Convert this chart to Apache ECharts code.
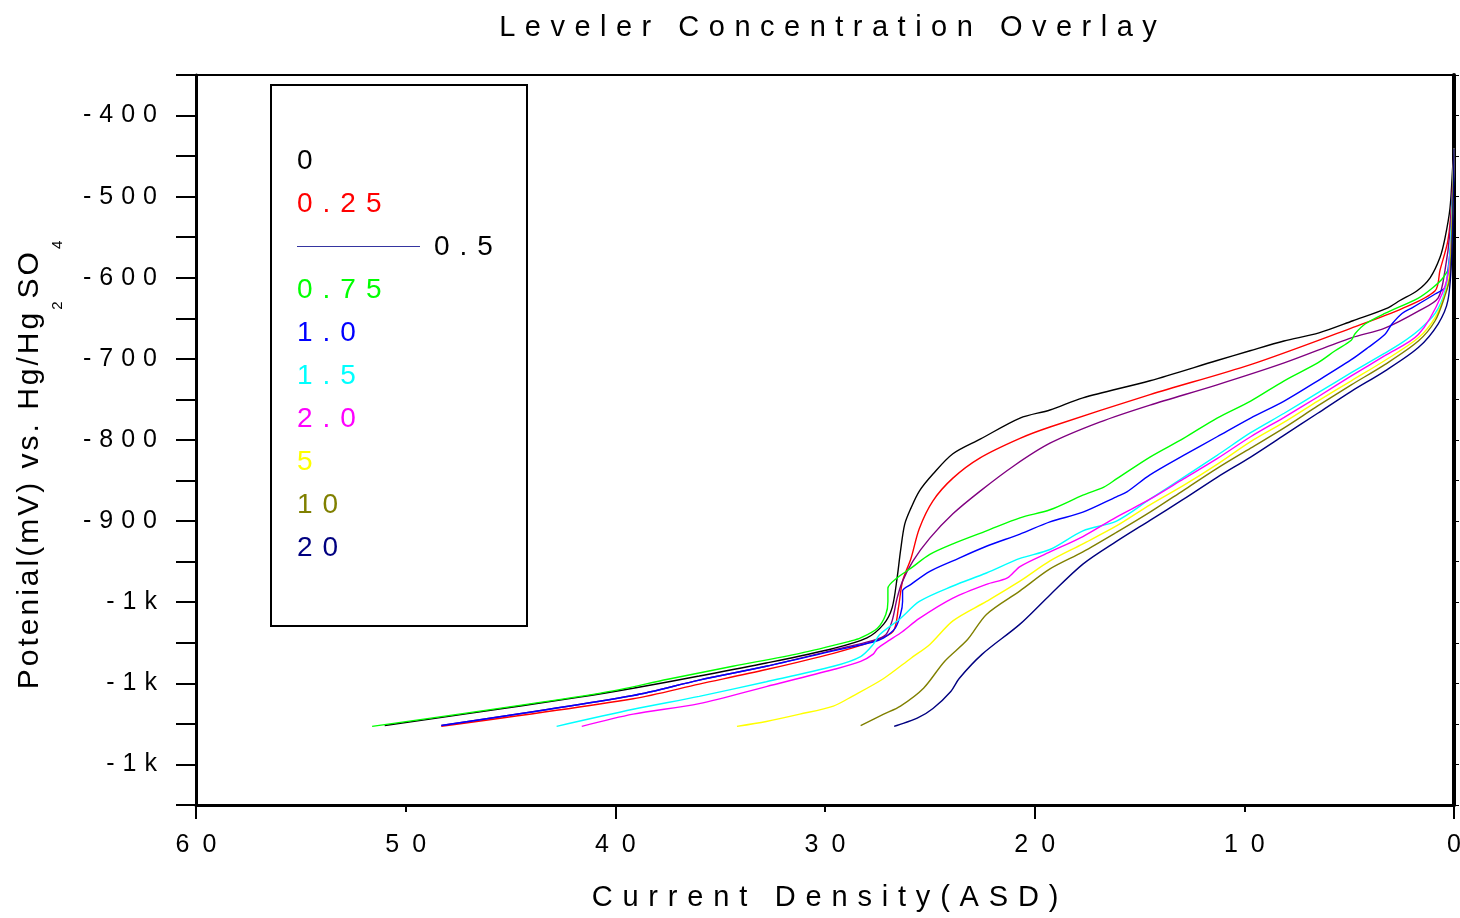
<!DOCTYPE html>
<html>
<head>
<meta charset="utf-8">
<title>Leveler Concentration Overlay</title>
<script src="https://cdn.jsdelivr.net/npm/echarts@6/dist/echarts.min.js"></script>
<style>
  html, body { margin: 0; padding: 0; background: #fff; }
  #chart { width: 1460px; height: 918px; }
</style>
</head>
<body>
<div id="chart"></div>
<script>
  // 图例名称 / 颜色
  var names = ['0', '0.25', '0.5', '0.75', '1.0', '1.5', '2.0', '5', '10', '20'];
  var colors = ['#000000', '#ff0000', '#800080', '#00ff00', '#0000ff', '#00ffff', '#ff00ff', '#ffff00', '#808000', '#000080'];

  // [电流密度 ASD, 电位 mV]
  var c0 = [[0,-441],[0.05,-458],[0.19,-514],[0.43,-551],[0.67,-575],[1.14,-600],[1.76,-616],[2.58,-628],[3.15,-637],[4.82,-653],[6.44,-668],[8.11,-678],[9.73,-690],[11.3,-702],[14.5,-727],[17.7,-748],[19.27,-763],[20.7,-773],[22.6,-799],[23.9,-817],[24.85,-842],[25.5,-863],[25.9,-884],[26.2,-904],[26.4,-937],[26.56,-970],[26.8,-1007],[27.2,-1027],[28.0,-1044],[29.6,-1057],[32.8,-1075],[36.0,-1091],[39.15,-1106],[41.7,-1117],[47.2,-1138],[51.0,-1152]];
  var c025 = [[0,-443],[0.1,-505],[0.29,-554],[0.67,-591],[0.9,-616],[2.48,-638],[4.9,-662],[9.7,-707],[14.5,-744],[19.27,-784],[20.7,-798],[22.6,-822],[23.9,-847],[24.85,-875],[25.5,-909],[25.9,-946],[26.3,-974],[26.5,-1007],[26.75,-1036],[27.7,-1048],[29.6,-1063],[32.8,-1083],[36.0,-1101],[39.15,-1119],[48.3,-1153]];
  var c05 = [[0,-441],[0.19,-542],[0.43,-591],[0.76,-625],[1.7,-641],[3.3,-662],[4.9,-674],[8.1,-705],[11.3,-732],[14.5,-757],[16.9,-778],[19.27,-804],[21.0,-832],[22.6,-863],[23.9,-891],[25.0,-921],[25.8,-949],[26.3,-974],[26.56,-995],[26.8,-1023],[27.1,-1040],[27.7,-1047],[29.6,-1059],[32.8,-1079],[36.0,-1096],[39.15,-1115],[48.3,-1152]];
  var c075 = [[0,-441],[0.19,-583],[0.52,-600],[1.0,-612],[1.7,-625],[3.3,-644],[4.24,-657],[4.72,-669],[4.9,-677],[5.67,-690],[6.5,-705],[8.1,-727],[9.7,-752],[11.3,-773],[12.9,-798],[14.5,-821],[16.1,-848],[16.7,-858],[17.7,-868],[19.27,-886],[20.7,-896],[22.3,-912],[23.9,-928],[25.0,-941],[25.9,-958],[26.56,-970],[27.0,-983],[27.0,-999],[27.1,-1015],[27.5,-1032],[28.3,-1044],[28.8,-1048],[31.2,-1063],[34.4,-1079],[37.5,-1095],[40.7,-1112],[51.6,-1153]];
  var c1 = [[0,-441],[0.1,-542],[0.29,-591],[0.43,-612],[0.9,-620],[2.0,-637],[2.48,-644],[2.96,-657],[3.3,-670],[4.1,-686],[4.9,-701],[6.5,-727],[8.1,-752],[9.7,-773],[11.3,-796],[12.9,-819],[14.5,-843],[15.6,-864],[16.1,-870],[17.7,-889],[19.27,-901],[20.7,-916],[22.3,-931],[23.9,-949],[25.0,-962],[25.9,-978],[26.3,-986],[26.3,-999],[26.4,-1015],[26.65,-1032],[27.2,-1044],[27.7,-1049],[29.6,-1060],[32.8,-1079],[36.0,-1096],[39.15,-1115],[48.3,-1152]];
  var c15 = [[0,-441],[0.19,-567],[0.43,-616],[0.9,-644],[1.7,-665],[2.48,-680],[3.3,-693],[4.9,-717],[6.5,-742],[8.1,-767],[9.7,-791],[11.3,-819],[12.9,-846],[14.5,-873],[16.1,-900],[17.7,-912],[19.27,-935],[20.7,-946],[22.3,-964],[23.9,-980],[25.5,-999],[26.4,-1020],[27.4,-1040],[27.7,-1052],[28.3,-1067],[29.6,-1079],[32.8,-1098],[36.0,-1116],[39.15,-1132],[42.8,-1153]];
  var c2 = [[0,-441],[0.19,-579],[0.57,-620],[1.7,-670],[3.3,-696],[4.9,-721],[6.5,-747],[8.1,-772],[9.7,-796],[11.3,-823],[12.9,-848],[14.5,-873],[16.1,-895],[17.7,-919],[19.27,-938],[20.7,-956],[21.3,-970],[22.3,-978],[23.9,-995],[25.5,-1020],[26.4,-1038],[27.0,-1048],[27.5,-1057],[27.7,-1064],[28.3,-1073],[29.6,-1083],[32.8,-1104],[36.0,-1125],[39.15,-1138],[41.6,-1153]];
  var c5 = [[0,-441],[0.19,-591],[0.43,-620],[0.9,-649],[1.7,-674],[3.3,-702],[4.9,-727],[6.5,-752],[8.1,-778],[9.7,-802],[11.3,-830],[12.9,-856],[14.5,-880],[16.1,-906],[17.7,-928],[19.27,-949],[20.7,-974],[22.3,-999],[23.9,-1023],[25.0,-1052],[25.9,-1069],[27.2,-1094],[28.7,-1116],[29.6,-1128],[31.2,-1138],[32.8,-1147],[34.2,-1153]];
  var c10 = [[0,-441],[0.19,-598],[0.43,-622],[0.9,-653],[1.7,-678],[3.3,-707],[4.9,-732],[6.5,-758],[8.1,-785],[9.7,-810],[11.3,-835],[12.9,-862],[14.5,-889],[16.1,-914],[17.7,-938],[19.27,-959],[20.7,-986],[22.3,-1015],[23.2,-1046],[24.3,-1073],[25.3,-1106],[26.4,-1128],[27.2,-1138],[28.3,-1152]];
  var c20 = [[0,-441],[0.1,-567],[0.29,-628],[0.76,-657],[1.7,-686],[3.3,-715],[4.9,-740],[6.5,-767],[8.1,-794],[9.7,-821],[11.3,-846],[12.9,-873],[14.5,-899],[16.1,-925],[17.7,-953],[19.27,-991],[20.7,-1027],[22.5,-1064],[23.6,-1094],[24.0,-1110],[24.85,-1131],[25.6,-1143],[26.7,-1153]];
  var curves = [c0, c025, c05, c075, c1, c15, c2, c5, c10, c20];

  var FONT = '"Liberation Sans", Arial, Helvetica, sans-serif';

  // 字间距：每个字符一个 rich 片段
  function spaced(str, key) {
    return str.split('').map(function (ch) {
      return '{' + key + '|' + ch + '}';
    }).join('');
  }

  var myChart = echarts.init(document.getElementById('chart'));

  var series = curves.map(function (d, i) {
    return {
      name: names[i],
      type: 'line',
      xAxisIndex: 0,
      yAxisIndex: 0,
      data: d,
      showSymbol: false,
      symbol: 'none',
      smooth: 0.3,
      lineStyle: { width: 1.4, color: colors[i] },
      itemStyle: { color: colors[i] },
      z: 2 + i
    };
  });

  // 图例（自绘方框）
  var legendItems = [{
    type: 'rect',
    shape: { x: 271, y: 85, width: 256, height: 541 },
    style: { fill: '#fff', stroke: '#000', lineWidth: 2 },
    z: 100
  }];
  names.forEach(function (n, i) {
    var y = 161 + i * 43;
    if (n === '0.5') {
      legendItems.push({
        type: 'line',
        shape: { x1: 297, y1: y - 0.5, x2: 420, y2: y - 0.5 },
        style: { stroke: '#3535a0', lineWidth: 1 },
        z: 101
      });
      legendItems.push({
        type: 'text', x: 429, y: y, z: 101,
        style: {
          text: spaced(n, 'g'), verticalAlign: 'middle', align: 'left',
          rich: { g: { fontSize: 28, fontFamily: FONT, fill: '#000', padding: [0, 5, 0, 5] } }
        }
      });
    } else {
      legendItems.push({
        type: 'text', x: 292, y: y, z: 101,
        style: {
          text: spaced(n, 'g'), verticalAlign: 'middle', align: 'left',
          rich: { g: { fontSize: 28, fontFamily: FONT, fill: colors[i], padding: [0, 5, 0, 5] } }
        }
      });
    }
  });

  // 纵轴标题 Hg2SO4 下标
  var yName = spaced('Potenial(mV) vs. Hg/Hg', 'm') + spaced('2', 's') + spaced('SO', 'm') + spaced('4', 's');
  legendItems.push({
    type: 'text', x: 40, y: 465, rotation: Math.PI / 2, z: 101,
    style: {
      text: yName, align: 'center', verticalAlign: 'middle',
      rich: {
        m: { fontSize: 30, fontFamily: FONT, fill: '#000', padding: [0, 1.5, 20, 1.5], verticalAlign: 'bottom' },
        s: { fontSize: 15, fontFamily: FONT, fill: '#000', padding: [0, 1.5, 0, 1.5], verticalAlign: 'bottom' }
      }
    }
  });

  var gridBox = { left: 196, right: 6, top: 75, bottom: 113, containLabel: false, outerBoundsMode: 'none' };

  var options = {
    backgroundColor: '#fff',
    animation: false,
    title: {
      text: spaced('Leveler Concentration Overlay', 't'),
      left: 823,
      top: 8,
      textAlign: 'center',
      textStyle: {
        fontWeight: 'normal',
        rich: { t: { fontSize: 29, fontFamily: FONT, fontWeight: 'normal', color: '#000', padding: [0, 4.75, 0, 4.75] } }
      }
    },
    grid: [
      Object.assign({}, gridBox),
      Object.assign({}, gridBox)
    ],
    xAxis: [
      {
        type: 'value', gridIndex: 0, position: 'bottom',
        min: 0, max: 60, interval: 10, inverse: true,
        axisLine: { show: true, onZero: false, lineStyle: { color: '#000', width: 3 } },
        axisTick: { show: true, inside: false, length: 7, lineStyle: { color: '#000', width: 2 } },
        splitLine: { show: false },
        axisLabel: {
          margin: 28,
          formatter: function (v) { return spaced(String(v), 'x'); },
          rich: { x: { fontSize: 25, fontFamily: FONT, color: '#000', padding: [0, 6.5, 0, 6.5] } }
        },
        name: spaced('Current Density(ASD)', 'n'),
        nameLocation: 'middle',
        nameGap: 78,
        nameTextStyle: {
          rich: { n: { fontSize: 29, fontFamily: FONT, color: '#000', padding: [0, 4.9, 0, 4.9] } }
        }
      },
      {
        // 上边框
        type: 'value', gridIndex: 0, position: 'top',
        min: 0, max: 60, inverse: true,
        axisLine: { show: true, onZero: false, lineStyle: { color: '#000', width: 2 } },
        axisTick: { show: false },
        axisLabel: { show: false },
        splitLine: { show: false }
      },
      {
        // 长刻度 (每 20)
        type: 'value', gridIndex: 1, position: 'bottom',
        min: 0, max: 60, interval: 20, inverse: true,
        axisLine: { show: false, onZero: false },
        axisTick: { show: true, inside: false, length: 14, lineStyle: { color: '#000', width: 2 } },
        axisLabel: { show: false },
        splitLine: { show: false }
      }
    ],
    yAxis: [
      {
        type: 'value', gridIndex: 0, position: 'left',
        min: -1250, max: -350, interval: 50,
        axisLine: { show: true, onZero: false, lineStyle: { color: '#000', width: 3 } },
        axisTick: { show: true, inside: false, length: 20, lineStyle: { color: '#000', width: 2 } },
        splitLine: { show: false },
        axisLabel: {
          margin: 35,
          formatter: function (v) {
            if (v % 100 !== 0) return '';
            var s = v <= -1000 ? '-1k' : String(v);
            return spaced(s, 'a');
          },
          rich: { a: { fontSize: 25, fontFamily: FONT, color: '#000', padding: [0, 4, 0, 4] } }
        }
      },
      {
        // 右边框
        type: 'value', gridIndex: 0, position: 'right',
        min: -1250, max: -350, interval: 50,
        axisLine: { show: true, onZero: false, lineStyle: { color: '#000', width: 4 } },
        axisTick: { show: true, inside: false, length: 5, lineStyle: { color: '#000', width: 1 } },
        axisLabel: { show: false },
        splitLine: { show: false }
      },
      {
        type: 'value', gridIndex: 1, show: false,
        min: -1250, max: -350
      }
    ],
    graphic: legendItems,
    series: series
  };

  myChart.setOption(options);
</script>
</body>
</html>
